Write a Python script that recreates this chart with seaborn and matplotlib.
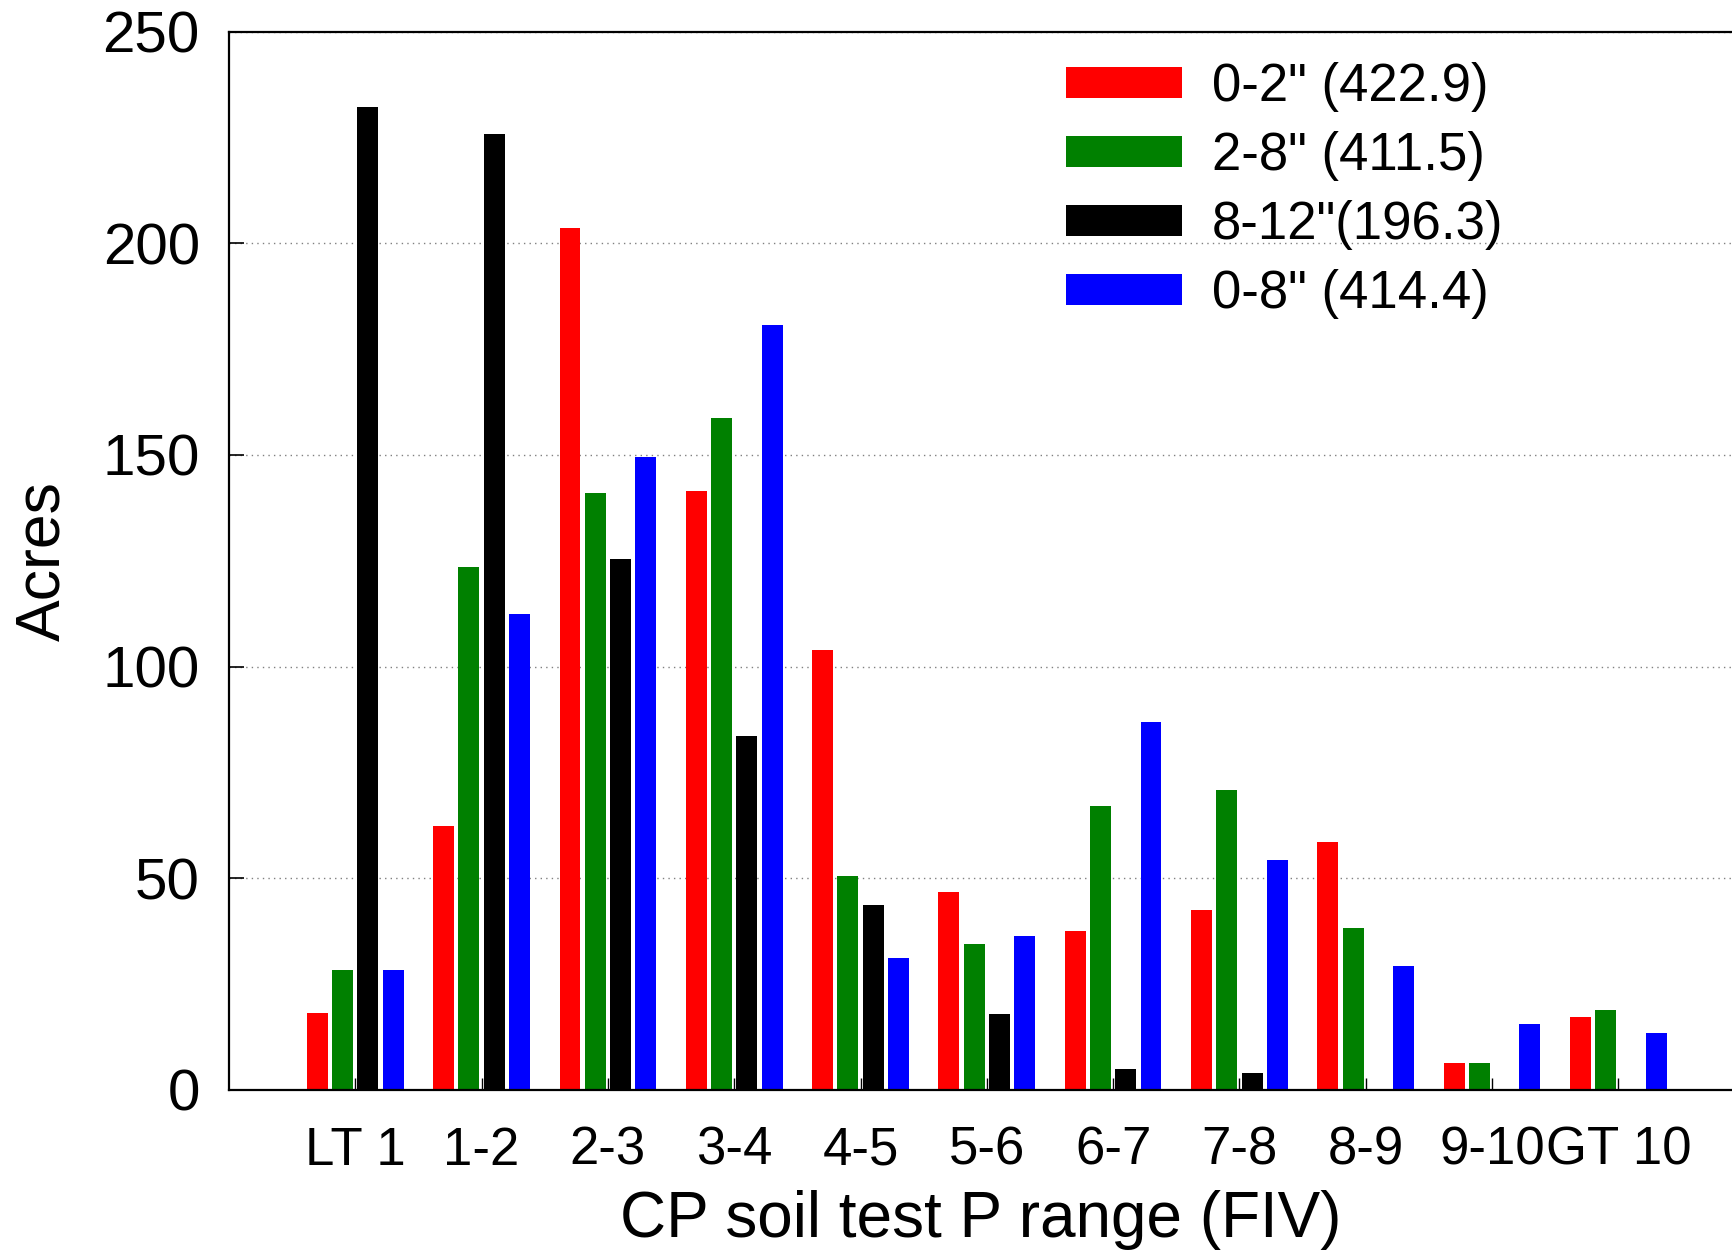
import matplotlib
matplotlib.use("Agg")
import matplotlib.pyplot as plt
from matplotlib.patches import Patch
import seaborn as sns
import pandas as pd

categories = ["LT 1", "1-2", "2-3", "3-4", "4-5", "5-6", "6-7", "7-8", "8-9", "9-10", "GT 10"]
series_labels = ['0-2" (422.9)', '2-8" (411.5)', '8-12"(196.3)', '0-8" (414.4)']
d0_2 = [18.1, 62.3, 203.5, 141.5, 104.0, 46.8, 37.6, 42.5, 58.6, 6.3, 17.2]
d2_8 = [28.4, 123.5, 141.1, 158.8, 50.6, 34.5, 67.0, 70.9, 38.3, 6.3, 18.9]
d8_12 = [232.1, 225.8, 125.5, 83.5, 43.7, 18.0, 4.9, 4.0, 0.0, 0.0, 0.0]
d0_8 = [28.4, 112.4, 149.6, 180.7, 31.1, 36.4, 86.8, 54.3, 29.3, 15.6, 13.5]
colors = ["#ff0000", "#008000", "#000000", "#0000ff"]

rows = []
for lab, vals in zip(series_labels, [d0_2, d2_8, d8_12, d0_8]):
    for c, v in zip(categories, vals):
        rows.append({"range": c, "acres": v, "depth": lab})
df = pd.DataFrame(rows)

sns.set_theme(style="white")
plt.rcParams["font.family"] = ["Liberation Sans", "DejaVu Sans"]
plt.rcParams["text.color"] = "black"
plt.rcParams["axes.labelcolor"] = "black"
plt.rcParams["xtick.color"] = "black"
plt.rcParams["ytick.color"] = "black"

fig = plt.figure(figsize=(17.32, 12.52), dpi=100)
ax = fig.add_axes([229 / 1732, 1 - 1089.8 / 1252, 1 - 229 / 1732, (1089.8 - 31.6) / 1252])

sns.barplot(data=df, x="range", y="acres", hue="depth", order=categories,
            hue_order=series_labels, palette=colors, saturation=1,
            width=0.8, gap=0.17, linewidth=0, errorbar=None, ax=ax, legend=False)

ax.set_xlim(-1.0, 10.9)
ax.set_ylim(0, 250)
ax.set_yticks([0, 50, 100, 150, 200, 250])
ax.set_axisbelow(True)
ax.yaxis.grid(True, linestyle=(0, (1, 3)), color="#808080", linewidth=1.0)
ax.xaxis.grid(False)

for s in ["left", "top", "bottom"]:
    ax.spines[s].set_visible(True)
    ax.spines[s].set_color("black")
    ax.spines[s].set_linewidth(1.6)
ax.spines["right"].set_visible(False)

ax.tick_params(axis="y", direction="in", length=11, width=1.2, labelsize=42, pad=21,
               colors="black", labelcolor="black", left=True)
ax.tick_params(axis="x", direction="in", length=9, width=1.0, labelsize=38, pad=26,
               colors="black", labelcolor="black", bottom=True)

ax.set_xlabel("CP soil test P range (FIV)", fontsize=46, labelpad=10, color="black")
ax.set_ylabel("Acres", fontsize=45, labelpad=22, color="black")

handles = [Patch(facecolor=c, edgecolor="none") for c in colors]
leg = ax.legend(handles, series_labels, loc="upper left", bbox_to_anchor=(1066 / 1732, 1 - 62 / 1252),
                bbox_transform=fig.transFigure, frameon=False, fontsize=38, handlelength=2.2,
                handleheight=0.53, handletextpad=0.57, labelspacing=0.36, borderpad=0, borderaxespad=0)
for t in leg.get_texts():
    t.set_color("black")

fig.savefig("out.png", dpi=100)
